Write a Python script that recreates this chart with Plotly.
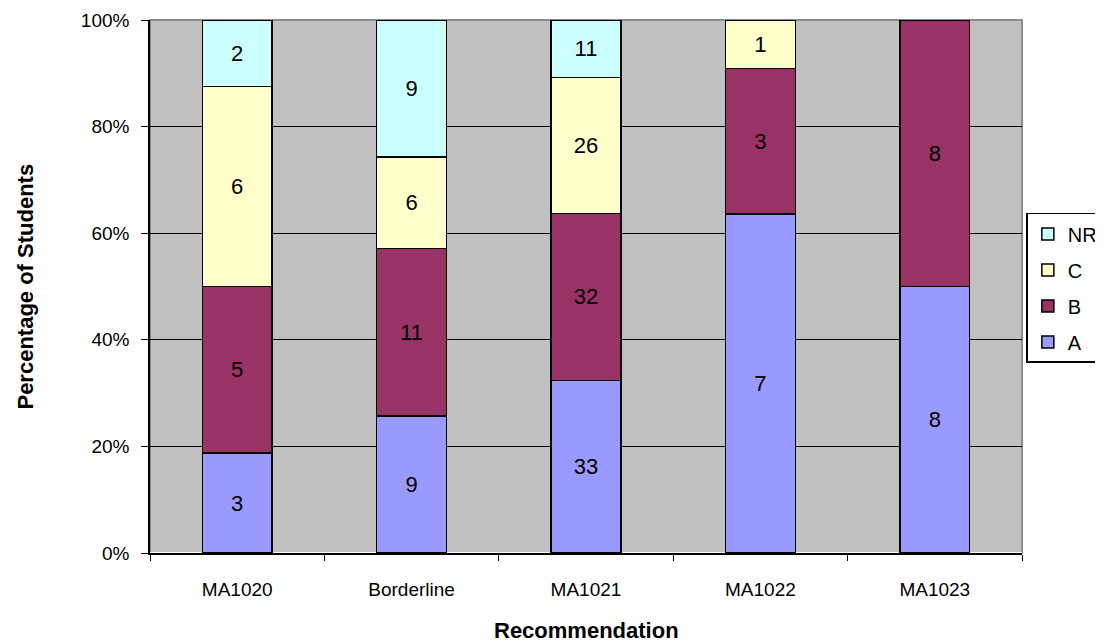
import plotly.graph_objects as go

categories = ["MA1020", "Borderline", "MA1021", "MA1022", "MA1023"]
series_names = ["A", "B", "C", "NR"]
A = [3, 9, 33, 7, 8]
B = [5, 11, 32, 3, 8]
C = [6, 6, 26, 1, 0]
NR = [2, 9, 11, 0, 0]
y_ticks = [0, 20, 40, 60, 80, 100]
y_ticklabels = ["0%", "20%", "40%", "60%", "80%", "100%"]
colors = {"A": "#9999FF", "B": "#993366", "C": "#FFFFCC", "NR": "#CCFFFF"}
values = {"A": A, "B": B, "C": C, "NR": NR}
ranks = {"NR": 1, "C": 2, "B": 3, "A": 4}

FONT = "Liberation Sans, Arial, sans-serif"

fig = go.Figure()
for name in series_names:
    vals = values[name]
    fig.add_trace(go.Bar(
        x=categories, y=vals, name=name, legendgroup=name, legendrank=ranks[name],
        marker=dict(color=colors[name], line=dict(color="black", width=1.5)),
        text=[str(v) if v else "" for v in vals],
        textposition="inside", insidetextanchor="middle",
        textfont=dict(family=FONT, size=22, color="black"),
        hoverinfo="skip",
    ))

# page body has an 8px margin: plot area placed so that it lands at x 150..1022, y 20..553
fig.update_layout(
    barmode="stack", barnorm="percent", bargap=0.6,
    width=1095, height=636,
    margin=dict(l=142, r=81, t=12, b=91, autoexpand=False),
    paper_bgcolor="white", plot_bgcolor="#C0C0C0",
    font=dict(family=FONT, size=19, color="black"),
    uniformtext=dict(minsize=22, mode="show"),
    showlegend=True,
    legend=dict(
        x=1.005, y=0.638, xanchor="left", yanchor="top",
        traceorder="grouped", tracegroupgap=7,
        bordercolor="black", borderwidth=1.5, bgcolor="white",
        font=dict(family=FONT, size=20, color="black"),
    ),
    xaxis=dict(
        showline=True, linecolor="black", linewidth=1.5,
        ticks="outside", tickson="boundaries", ticklen=6, tickcolor="black",
        tickfont=dict(size=19), ticklabelstandoff=18,
    ),
    yaxis=dict(
        range=[0, 100], tickvals=y_ticks, ticktext=y_ticklabels,
        showline=True, linecolor="black", linewidth=1.5,
        ticks="outside", ticklen=7, tickcolor="black",
        showgrid=True, gridcolor="black", gridwidth=1.2,
        tickfont=dict(size=19), ticklabelstandoff=8,
    ),
    shapes=[dict(
        type="rect", xref="paper", yref="paper", x0=0, x1=1, y0=0, y1=1,
        line=dict(color="#8C8C8C", width=2), layer="between",
    )],
    annotations=[
        dict(text="<b>Recommendation</b>", xref="paper", yref="paper",
             x=0.5, y=-0.1445, xanchor="center", yanchor="middle",
             showarrow=False, font=dict(family=FONT, size=22, color="black")),
        dict(text="<b>Percentage of Students</b>", xref="paper", yref="paper",
             x=-0.1433, y=0.5, xanchor="center", yanchor="middle", textangle=-90,
             showarrow=False, font=dict(family=FONT, size=22, color="black")),
    ],
)

fig.write_html("out.html")
